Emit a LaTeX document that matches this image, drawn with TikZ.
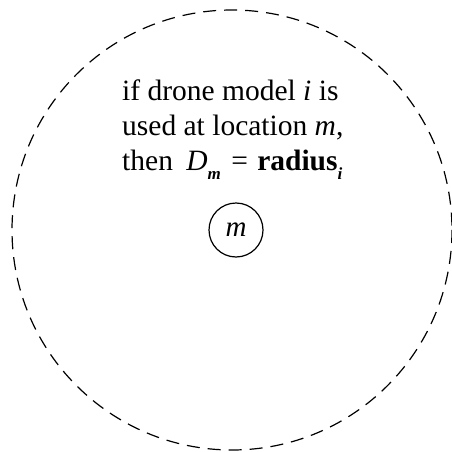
\documentclass[tikz,border=0pt]{standalone}
\usepackage{fontspec}
\setmainfont{Liberation Serif}
\tikzset{
  zone/.style={draw, dashed, dash pattern=on 13pt off 8pt, line width=1.2pt},
  loc/.style={draw, circle, line width=1.2pt, minimum size=54pt, inner sep=0pt, font=\fontsize{29}{35}\selectfont\itshape},
  label/.style={align=left, inner sep=0pt, font=\fontsize{29.5}{35}\selectfont}
}
\newcommand{\lsub}[1]{\raisebox{-0.33em}{\fontsize{17}{17}\selectfont\bfseries\itshape #1}}
\begin{document}
\begin{tikzpicture}[x=1pt,y=-1pt]
\useasboundingbox (0,0) rectangle (452,452);
\draw[zone] (232,230) circle[radius=220];
\node[loc] (m) at (236,230) {m};
\node[label, anchor=base west] (txt) at (122,170) {if drone model \textit{i} is\\used at location \textit{m},\\then\hspace{6pt} \textit{D}\lsub{m}\hspace{3pt} =\hspace{2pt} \textbf{radius}\lsub{i}};
\end{tikzpicture}
\end{document}
